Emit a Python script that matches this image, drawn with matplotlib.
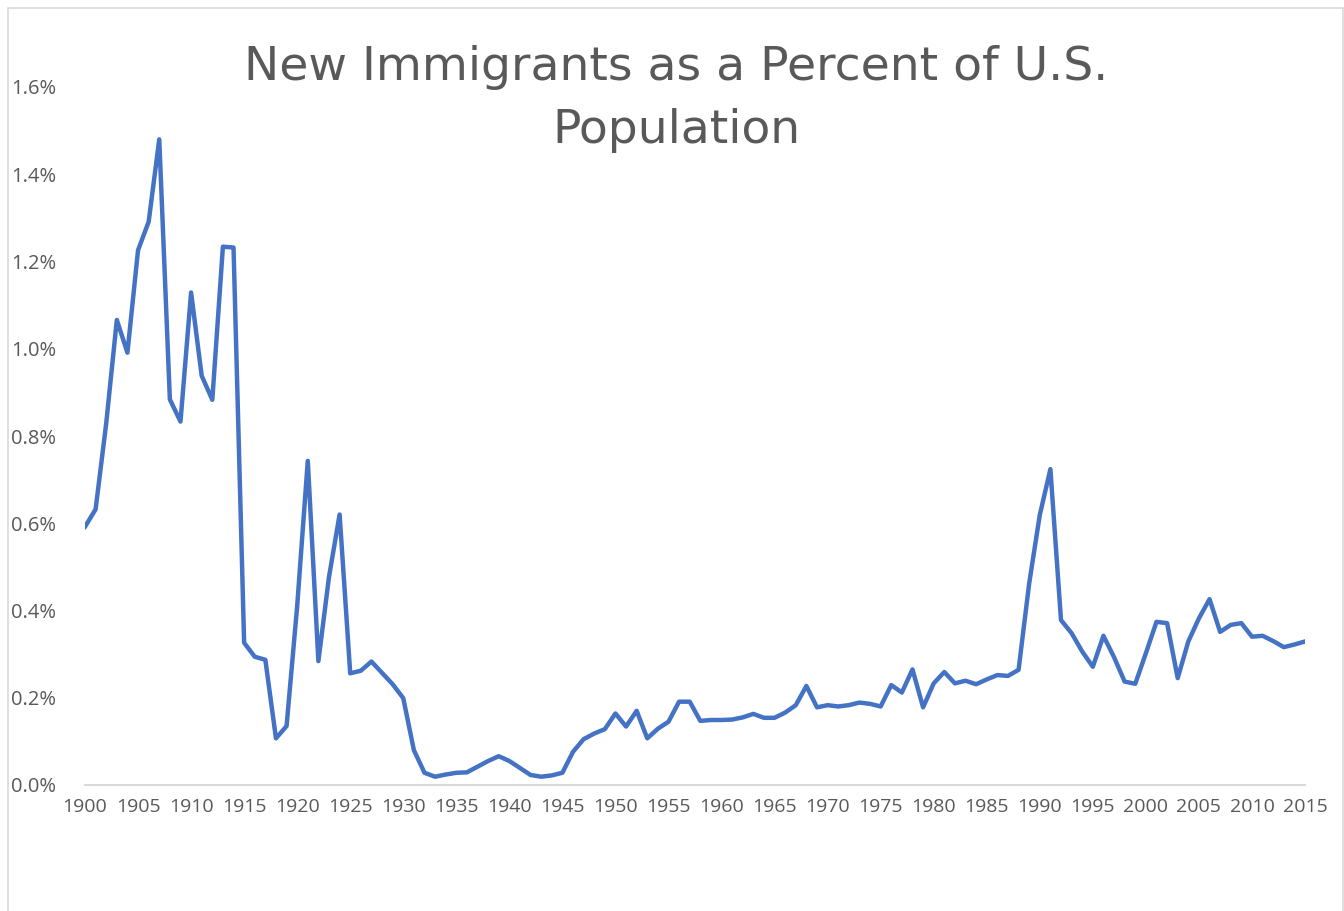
import matplotlib.pyplot as plt
import numpy as np
from matplotlib.patches import Rectangle

# years and new immigrants as a percent of US population
years = list(range(1900, 2016))
pct = [0.592, 0.632, 0.829, 1.066, 0.991, 1.226, 1.291, 1.480, 0.884, 0.833,
       1.129, 0.938, 0.883, 1.234, 1.232, 0.326, 0.294, 0.287, 0.107, 0.135,
       0.410, 0.743, 0.284, 0.477, 0.620, 0.256, 0.262, 0.283, 0.257, 0.231,
       0.199, 0.080, 0.028, 0.019, 0.024, 0.028, 0.029, 0.042, 0.055, 0.066,
       0.055, 0.039, 0.023, 0.019, 0.022, 0.028, 0.076, 0.105, 0.118, 0.128,
       0.164, 0.134, 0.170, 0.107, 0.129, 0.145, 0.191, 0.191, 0.147, 0.149,
       0.149, 0.150, 0.155, 0.163, 0.154, 0.154, 0.166, 0.183, 0.227, 0.178,
       0.183, 0.180, 0.183, 0.189, 0.186, 0.180, 0.229, 0.212, 0.265, 0.178,
       0.233, 0.259, 0.233, 0.239, 0.231, 0.242, 0.252, 0.250, 0.264, 0.462,
       0.619, 0.724, 0.378, 0.348, 0.306, 0.271, 0.342, 0.293, 0.237, 0.232,
       0.302, 0.374, 0.371, 0.245, 0.329, 0.382, 0.426, 0.351, 0.367, 0.371,
       0.340, 0.342, 0.330, 0.316, 0.322, 0.329]
xtick_years = list(range(1900, 2016, 5))
ytick_vals = [0.0, 0.2, 0.4, 0.6, 0.8, 1.0, 1.2, 1.4, 1.6]

gray = '#595959'

fig = plt.figure(figsize=(13.44, 9.11), dpi=100)

# chart frame (like the excel chart border)
fig.patches.append(Rectangle((8/1344, -0.05), (1343-8)/1344, 1 - 8/911 + 0.05,
                             transform=fig.transFigure, fill=False,
                             edgecolor='#d9d9d9', linewidth=1.2))

ax = fig.add_axes([85/1344, 126/911, 1220/1344, 698/911])
ax.plot(years, pct, color='#4472C4', linewidth=3.2, solid_joinstyle='round')

ax.set_xlim(1900, 2015)
ax.set_ylim(0, 1.6)
ax.set_xticks(xtick_years)
ax.set_xticklabels([str(y) for y in xtick_years])
ax.set_yticks(ytick_vals)
ax.set_yticklabels(['%.1f%%' % v for v in ytick_vals], ha='left')

for s in ['top', 'right', 'left']:
    ax.spines[s].set_visible(False)
ax.spines['bottom'].set_color('#d9d9d9')
ax.spines['bottom'].set_linewidth(1.5)

ax.tick_params(axis='x', length=0, pad=9, labelsize=14, labelcolor=gray)
ax.tick_params(axis='y', length=0, pad=53, labelsize=14.5, labelcolor=gray)
for lab in ax.get_xticklabels() + ax.get_yticklabels():
    lab.set_family('Open Sans')

fig.text(676/1344, 1 - 80/911, 'New Immigrants as a Percent of U.S.', ha='center',
         va='baseline', fontsize=34, color=gray, family='DejaVu Sans')
fig.text(676/1344, 1 - 143/911, 'Population', ha='center',
         va='baseline', fontsize=34, color=gray, family='DejaVu Sans')

fig.savefig('out.png', dpi=100)
